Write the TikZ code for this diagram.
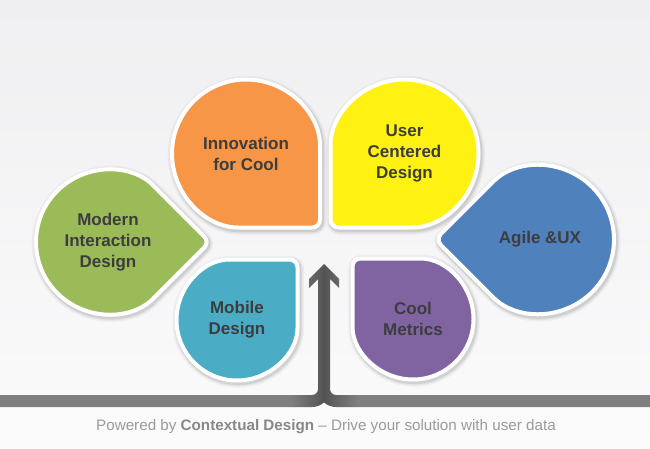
\documentclass[tikz,border=0pt]{standalone}
\usepackage{fontspec}
\setmainfont{Liberation Sans}
\usetikzlibrary{calc}
\definecolor{cOrange}{HTML}{F79646}
\definecolor{cYellow}{HTML}{FFF212}
\definecolor{cGreen}{HTML}{9BBB59}
\definecolor{cBlue}{HTML}{4F81BD}
\definecolor{cAqua}{HTML}{4BACC6}
\definecolor{cPurple}{HTML}{8064A2}
\definecolor{lblc}{HTML}{3D3D3D}
\definecolor{bgtop}{HTML}{EFEFF1}
\definecolor{bgbot}{HTML}{FBFBFC}
\definecolor{ftr}{HTML}{9B9B9B}
\definecolor{ftrb}{HTML}{888888}
\definecolor{gA}{HTML}{7F7F7F}
\definecolor{gB}{HTML}{545454}
\pgfdeclarehorizontalshading{ground}{100bp}{color(0bp)=(gA); color(47.3bp)=(gA); color(49.92bp)=(gB); color(52.5bp)=(gA); color(100bp)=(gA)}
\tikzset{
  lbl/.style={font=\fontsize{17}{21}\selectfont\bfseries, text=lblc, align=center, inner sep=0pt},
  petalfill/.style={draw=white, line width=4pt, rounded corners=8pt},
}
% name, cx, cy, r, tip angle, colour, text
\newcommand\petal[7]{%
  \begin{scope}[shift={(#2,#3)}]
    \foreach \w/\o in {11/0.035,8/0.05,5.5/0.08}{
      \path[draw=black, draw opacity=\o, line width=\w pt, rounded corners=8pt, shift={(1.2,-1.8)}]
        ({#5+45}:#4pt) arc[start angle={#5+45}, delta angle=270, radius=#4pt]
        -- ({#5}:{1.41421*#4 pt}) -- cycle;
    }
    \path[fill=#6, petalfill]
      ({#5+45}:#4pt) arc[start angle={#5+45}, delta angle=270, radius=#4pt]
      -- ({#5}:{1.41421*#4 pt}) -- cycle;
    \node[lbl] (#1) at (0,0) {#7};
  \end{scope}}
\begin{document}
\begin{tikzpicture}[x=1pt,y=1pt]
  \useasboundingbox (0,0) rectangle (650,448);
  \shade[top color=bgtop, bottom color=bgbot] (0,0) rectangle (650,448);

  \petal{innov}{246}{294.5}{74}{-45}{cOrange}{Innovation\\for Cool}
  \petal{ucd}{404.5}{294.5}{74}{-135}{cYellow}{User\\Centered\\Design}
  \petal{mid}{108}{206}{72}{0}{cGreen}{Modern\\Interaction\\Design}
  \petal{agile}{540}{208.5}{74}{180}{cBlue}{Agile \&UX}
  \petal{mobile}{237}{128}{60.5}{45}{cAqua}{Mobile\\Design}
  \petal{metrics}{413}{129}{60.5}{135}{cPurple}{Cool\\Metrics}

  % ground line with upward arrow
  \shade[shading=ground]
    (0,41) -- (312,41)
    arc[start angle=-90, end angle=-48.19, radius=18pt]
    arc[start angle=228.19, end angle=270, radius=18pt]
    -- (650,41) -- (650,53) -- (336,53)
    arc[start angle=270, end angle=180, radius=6pt]
    -- (330,169) -- (339,160) -- (339,169) -- (324,184)
    -- (309,169) -- (309,160) -- (318,169) -- (318,59)
    arc[start angle=0, end angle=-90, radius=6pt]
    -- (0,53) -- cycle;

  \node[anchor=base, inner sep=0pt, font=\fontsize{15.2}{18}\selectfont] (footer) at (326,18)
    {\textcolor{ftr}{Powered by}\ \textcolor{ftrb}{\bfseries Contextual Design}\ \textcolor{ftr}{– Drive your solution with user data}};
\end{tikzpicture}
\end{document}
